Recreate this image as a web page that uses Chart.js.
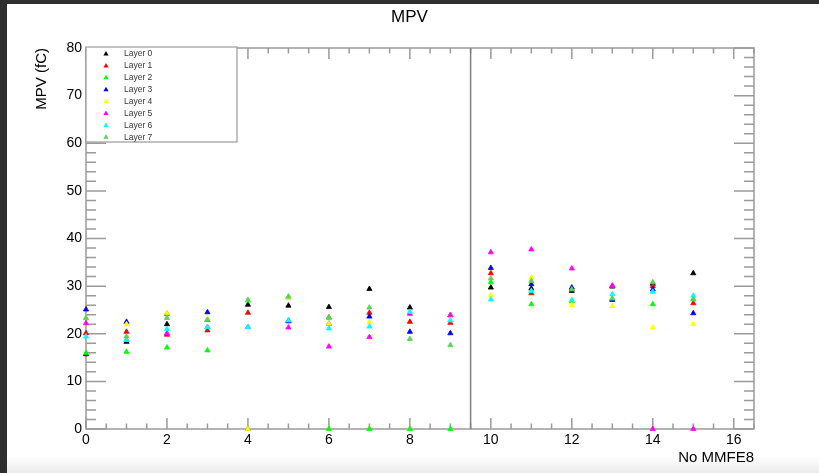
<!DOCTYPE html>
<html><head><meta charset="utf-8">
<script src="https://cdn.jsdelivr.net/npm/chart.js@4.4.0/dist/chart.umd.min.js"></script>
<style>html,body{margin:0;padding:0;background:#fff;overflow:hidden}canvas{display:block}</style>
</head><body><canvas id="c" width="819" height="473"></canvas>
<script>
// ---- data ----
const mmfe = [0,1,2,3,4,5,6,7,8,9,10,11,12,13,14,15];
const layerNames = ['Layer 0','Layer 1','Layer 2','Layer 3','Layer 4','Layer 5','Layer 6','Layer 7'];
const layerColors = ['#000000','#ff0000','#00ff00','#0000ff','#ffff00','#ff00ff','#00ffff','#59d454'];
const layer0 = [15.7,18.3,22.0,22.9,26.1,25.9,25.6,29.4,25.5,23.9,29.7,29.5,29.0,29.9,30.5,32.7];
const layer1 = [20.1,20.4,19.8,20.7,24.4,22.6,23.4,24.4,22.5,22.3,32.7,28.5,29.4,30.0,30.0,26.4];
const layer2 = [15.9,16.2,17.1,16.5,27.0,27.6,0,0,0,0,30.8,26.2,26.8,27.3,26.2,27.2];
const layer3 = [25.1,22.5,24.2,24.5,0,22.7,22.1,23.6,20.4,20.1,33.8,30.4,29.7,27.1,29.3,24.3];
const layer4 = [23.3,22.0,24.3,23.2,0,27.7,22.1,22.4,24.4,23.9,28.1,31.8,26.0,25.8,21.3,22.0];
const layer5 = [22.2,18.7,20.1,21.4,21.4,21.3,17.3,19.3,24.2,23.9,37.1,37.7,33.7,30.1,0,0];
const layer6 = [19.4,18.7,21.0,21.4,21.4,22.8,21.1,21.5,24.6,22.8,27.2,29.0,27.1,28.3,28.8,28.0];
const layer7 = [23.3,19.4,23.3,22.9,27.0,27.8,23.4,25.5,18.9,17.6,31.6,31.1,29.3,27.4,30.8,27.3];
const layers = [layer0,layer1,layer2,layer3,layer4,layer5,layer6,layer7];
const xTickLabels = [0,2,4,6,8,10,12,14,16];
const yTickLabels = [0,10,20,30,40,50,60,70,80];
const dividerX = 9.5;

const FONT = "'Liberation Sans', Arial, Helvetica, sans-serif";
const FRAME = '#9a9a9a';

function triPath(ctx, x, y, r){
  ctx.beginPath();
  ctx.moveTo(x, y - r);
  ctx.lineTo(x + r*0.866, y + r*0.5);
  ctx.lineTo(x - r*0.866, y + r*0.5);
  ctx.closePath();
}

const decoPlugin = {
  id: 'deco',
  beforeDraw(chart){
    const ctx = chart.ctx, W = chart.width, H = chart.height;
    ctx.save();
    ctx.fillStyle = '#fff'; ctx.fillRect(0,0,W,H);
    const g = ctx.createLinearGradient(0,456,0,H);
    g.addColorStop(0,'#ffffff'); g.addColorStop(1,'#ebebeb');
    ctx.fillStyle = g; ctx.fillRect(0,456,W,H-456);
    ctx.fillStyle = '#2e2e2e';
    ctx.fillRect(0,0,W,4);
    ctx.fillRect(0,0,7,H);
    ctx.restore();
  },
  beforeDatasetsDraw(chart){
    const ctx = chart.ctx, xs = chart.scales.x, ys = chart.scales.y;
    const {left,right,top,bottom} = chart.chartArea;
    ctx.save();
    ctx.strokeStyle = FRAME; ctx.lineWidth = 1.5;
    ctx.strokeRect(left, top, right-left, bottom-top);
    ctx.beginPath();
    for (let i = 0; i*0.5 <= xs.max + 1e-9; i++){
      const px = xs.getPixelForValue(i*0.5);
      const len = (i % 4 === 0) ? 11 : 5.5;
      ctx.moveTo(px,bottom); ctx.lineTo(px,bottom-len);
      ctx.moveTo(px,top); ctx.lineTo(px,top+len);
    }
    for (let v = 0; v <= ys.max + 1e-9; v += 2){
      const py = ys.getPixelForValue(v);
      const len = (v % 10 === 0) ? 20 : 10;
      ctx.moveTo(left,py); ctx.lineTo(left+len,py);
      ctx.moveTo(right,py); ctx.lineTo(right-len,py);
    }
    ctx.stroke();
    ctx.strokeStyle = '#808080';
    ctx.beginPath();
    const dx = xs.getPixelForValue(dividerX);
    ctx.moveTo(dx,top); ctx.lineTo(dx,bottom);
    ctx.stroke();
    ctx.restore();
  },
  afterDatasetsDraw(chart){
    const ctx = chart.ctx;
    const {left,top} = chart.chartArea;
    ctx.save();
    const bx = left, by = top - 1, bw = 151, bh = 95;
    ctx.fillStyle = '#fff'; ctx.fillRect(bx,by,bw,bh);
    ctx.strokeStyle = FRAME; ctx.lineWidth = 1.2;
    ctx.strokeRect(bx,by,bw,bh);
    ctx.font = '8.5px ' + FONT;
    ctx.textBaseline = 'middle'; ctx.textAlign = 'left';
    chart.data.datasets.forEach((ds,i) => {
      const y = by + 7 + i*11.9;
      ctx.fillStyle = ds.backgroundColor;
      triPath(ctx, bx + 20, y, 3);
      ctx.fill();
      ctx.fillStyle = '#333';
      ctx.fillText(ds.label, bx + 38, y);
    });
    ctx.restore();
  }
};

const datasets = layers.map((vals,i) => ({
  label: layerNames[i],
  data: mmfe.map((x,j) => ({x: x, y: vals[j]})),
  backgroundColor: layerColors[i],
  borderColor: layerColors[i],
  pointStyle: 'triangle',
  pointRadius: 3,
  pointBorderWidth: 0.8,
  showLine: false,
  clip: false,
  order: layers.length - 1 - i
}));

new Chart(document.getElementById('c'), {
  type: 'scatter',
  data: { datasets },
  plugins: [decoPlugin],
  options: {
    responsive: false,
    animation: false,
    devicePixelRatio: 1,
    layout: { padding: 0 },
    plugins: {
      legend: { display: false },
      tooltip: { enabled: false },
      title: {
        display: true, text: 'MPV', color: '#000',
        font: { family: FONT, size: 17, weight: 'normal' },
        padding: { top: 7, bottom: 20.6 }
      }
    },
    scales: {
      x: {
        type: 'linear', min: 0, max: 16.5,
        grid: { display: false, drawTicks: false },
        border: { display: false },
        ticks: { padding: 3, color: '#000', font: { family: FONT, size: 14 } },
        afterBuildTicks: s => { s.ticks = xTickLabels.map(v => ({ value: v })); },
        afterFit: s => { s.height = 44; },
        title: { display: true, text: 'No MMFE8', align: 'end', color: '#000',
          font: { family: FONT, size: 15 }, padding: { top: 0, bottom: 6 } }
      },
      y: {
        type: 'linear', min: 0, max: 80,
        grid: { display: false, drawTicks: false },
        border: { display: false },
        ticks: { padding: 4, color: '#000', font: { family: FONT, size: 14 } },
        afterBuildTicks: s => { s.ticks = yTickLabels.map(v => ({ value: v })); },
        afterFit: s => { s.width = 86; },
        title: { display: true, text: 'MPV (fC)', align: 'end', color: '#000',
          font: { family: FONT, size: 15 }, padding: { top: 33, bottom: 0 } }
      },
      y2: {
        position: 'right', display: true,
        grid: { display: false, drawTicks: false },
        border: { display: false },
        ticks: { display: false },
        afterFit: s => { s.width = 65; }
      }
    }
  }
});
</script>
</body></html>
